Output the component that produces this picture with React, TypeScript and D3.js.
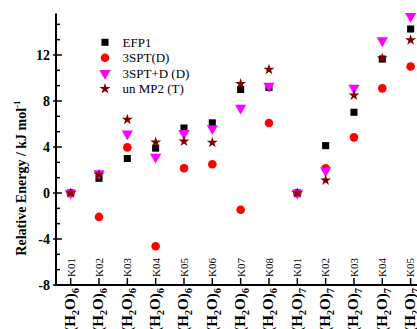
import React from "react";
import * as d3 from "d3";

const clusters = ["K01","K02","K03","K04","K05","K06","K07","K08","K01","K02","K03","K04","K05"];
const clusterSizes = ["6","6","6","6","6","6","6","6","7","7","7","7","7"];
const efp1 = [0, 1.28, 3.0, 3.9, 5.65, 6.1, 9.0, 9.17, 0, 4.12, 7.02, 11.65, 14.26];
const spt = [0, -2.08, 3.97, -4.63, 2.15, 2.5, -1.45, 6.09, 0, 2.15, 4.84, 9.1, 11.0];
const sptD = [0, 1.7, 5.16, 3.13, 5.2, 5.6, 7.4, 9.3, 0, 1.95, 9.13, 13.25, 15.37];
const mp2 = [0, 1.6, 6.38, 4.4, 4.5, 4.38, 9.5, 10.73, 0, 1.1, 8.5, 11.71, 13.3];
const yTicks = [-8, -4, 0, 4, 8, 12];
const legendNames = ["EFP1", "3SPT(D)", "3SPT+D (D)", "un MP2 (T)"];

const FONT = "'Liberation Serif', 'Times New Roman', serif";

export default function App() {
  const W = 417, H = 329;
  const x = d3.scaleLinear().domain([-0.5, 12.5]).range([56.5, 56.5 + 13 * 28.33]);
  const y = d3.scaleLinear().domain([-8, 15.6]).range([285, 13.6]);
  const minorTicks = d3.range(-8, 15.6, 4 / 3).filter((v) => Math.abs(Math.round(v) - v) > 0.01 || Math.round(v) % 4 !== 0);

  const square = d3.symbol().type(d3.symbolSquare).size(50)()!;
  const circle = d3.symbol().type(d3.symbolCircle).size(58)()!;
  const tri = d3.symbol().type(d3.symbolTriangle).size(55)()!;
  const star = d3.symbol().type(d3.symbolStar).size(38)()!;

  const series = [
    { name: legendNames[0], data: efp1, path: square, color: "#000000", rot: 0 },
    { name: legendNames[1], data: spt, path: circle, color: "#FF0000", rot: 0 },
    { name: legendNames[2], data: sptD, path: tri, color: "#FF00FF", rot: 180 },
    { name: legendNames[3], data: mp2, path: star, color: "#800000", rot: 0 },
  ];

  const axisY = 285;
  const axisX = 56;

  return (
    <svg width={W} height={H} style={{ position: "absolute", left: 0, top: 0, background: "#fff" }} fontFamily={FONT}>
      {/* markers */}
      {series.map((s) =>
        s.data.map((v, i) => (
          <path
            key={s.name + i}
            d={s.path}
            fill={s.color}
            transform={`translate(${x(i)},${y(v)}) rotate(${s.rot})`}
          />
        ))
      )}

      {/* Y axis */}
      <line x1={axisX} x2={axisX} y1={y(15.6)} y2={axisY + 1} stroke="#000" strokeWidth={2} />
      {yTicks.map((t) => (
        <g key={"yt" + t}>
          <line x1={axisX - 3} x2={axisX + 6} y1={y(t)} y2={y(t)} stroke="#000" strokeWidth={1.5} />
          <text x={50} y={y(t)} dy="0.35em" textAnchor="end" fontSize={14} fontWeight="bold">{t}</text>
        </g>
      ))}
      {minorTicks.map((t, i) => (
        <line key={"ym" + i} x1={axisX} x2={axisX + 4} y1={y(t)} y2={y(t)} stroke="#000" strokeWidth={1.5} />
      ))}
      <text
        transform={`translate(21,178) rotate(-90)`}
        textAnchor="middle"
        dy="0.35em"
        fontSize={14}
        fontWeight="bold"
      >
        Relative Energy / kJ mol<tspan dy={-6} fontSize={9}>-1</tspan>
      </text>

      {/* X axis */}
      <line x1={axisX - 1} x2={W} y1={axisY} y2={axisY} stroke="#000" strokeWidth={2} />
      {clusters.map((c, i) => (
        <g key={"xt" + i}>
          <line x1={x(i)} x2={x(i)} y1={axisY} y2={axisY - 7} stroke="#000" strokeWidth={1.5} />
          <text
            transform={`translate(${x(i)},${axisY - 8}) rotate(-90)`}
            dy="0.35em"
            fontSize={11}
            textAnchor="start"
          >
            {c}
          </text>
          <text
            transform={`translate(${x(i)},${axisY + 3}) rotate(-90)`}
            dy="0.3em"
            fontSize={15}
            fontWeight="bold"
            textAnchor="end"
          >
            (H<tspan fontSize={10.5} dy={4}>2</tspan><tspan dy={-4}>O)</tspan><tspan fontSize={10.5} dy={4}>{clusterSizes[i]}</tspan>
          </text>
        </g>
      ))}

      {/* legend */}
      {series.map((s, i) => {
        const ly = 42.3 + i * 15.5;
        return (
          <g key={"lg" + i}>
            <path d={s.path} fill={s.color} transform={`translate(105,${ly}) rotate(${s.rot})`} />
            <text x={122.5} y={ly} dy="0.35em" fontSize={13}>{s.name}</text>
          </g>
        );
      })}
    </svg>
  );
}
